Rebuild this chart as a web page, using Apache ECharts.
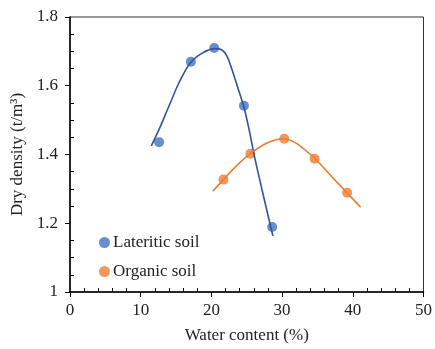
<!DOCTYPE html>
<html>
<head>
<meta charset="utf-8">
<script src="https://cdn.jsdelivr.net/npm/echarts@6/dist/echarts.min.js"></script>
<style>
  html, body { margin: 0; padding: 0; background: #fff; }
  #chart { width: 435px; height: 349px; }
</style>
</head>
<body>
<div id="chart"></div>
<script>
// measured points (water content %, dry density t/m3)
const lateriticX = [12.6, 17.1, 20.4, 24.6, 28.6]
const lateriticY = [1.436, 1.670, 1.710, 1.542, 1.189]
const organicX = [21.7, 25.5, 30.3, 34.6, 39.2]
const organicY = [1.327, 1.402, 1.446, 1.388, 1.289]

// trend curves
const lateriticTrendX = [11.5, 12.6, 14.0, 15.4, 17.0, 18.7, 20.5, 21.5, 22.2, 22.9, 23.6, 24.6, 25.4, 26.05, 27.3, 28.7]
const lateriticTrendY = [1.425, 1.473, 1.541, 1.608, 1.666, 1.695, 1.708, 1.704, 1.686, 1.648, 1.603, 1.538, 1.466, 1.398, 1.285, 1.163]
const organicTrendX = [20.2, 21.7, 23.5, 25.4, 27.5, 29.0, 30.3, 31.3, 32.2, 34.6, 36.9, 39.2, 41.1]
const organicTrendY = [1.293, 1.327, 1.366, 1.401, 1.430, 1.442, 1.446, 1.440, 1.430, 1.389, 1.338, 1.288, 1.247]

const xTicks = [0, 10, 20, 30, 40, 50]
const yTicks = [1, 1.2, 1.4, 1.6, 1.8]

const pairs = (xs, ys) => xs.map((x, i) => [x, ys[i]])

const font = 'Liberation Serif'
const blue = '#4472C4'
const blueLine = '#2F5597'
const orange = '#ED7D31'

const chart = echarts.init(document.getElementById('chart'))
chart.setOption({
  animation: false,
  textStyle: { fontFamily: font },
  grid: {
    left: 70, top: 17, right: 8, bottom: 55,
    show: true, borderColor: '#333', borderWidth: 1
  },
  legend: {
    orient: 'vertical',
    left: 94,
    top: 229,
    itemWidth: 11,
    itemHeight: 11,
    itemGap: 12,
    icon: 'circle',
    textStyle: { fontFamily: font, fontSize: 17, color: '#222', padding: [0, 0, 0, -2] },
    data: ['Lateritic soil', 'Organic soil']
  },
  xAxis: [
    {
      type: 'value',
      position: 'bottom',
      min: xTicks[0],
      max: xTicks[xTicks.length - 1],
      interval: 10,
      name: 'Water content (%)',
      nameLocation: 'middle',
      nameGap: 35,
      nameTextStyle: { fontFamily: font, fontSize: 17, color: '#222' },
      axisLine: { lineStyle: { color: '#000', width: 1.5 } },
      axisTick: { show: true, length: 5, lineStyle: { color: '#000' } },
      axisLabel: { fontFamily: font, fontSize: 17, color: '#222', margin: 10 },
      splitLine: { show: false }
    },
    {
      type: 'value',
      position: 'bottom',
      min: xTicks[0],
      max: xTicks[xTicks.length - 1],
      interval: 10,
      axisLine: { show: false },
      axisTick: { show: false, inside: true },
      minorTick: { show: true, splitNumber: 5, length: 4, lineStyle: { color: '#000' } },
      axisLabel: { show: false },
      splitLine: { show: false }
    }
  ],
  yAxis: [
    {
      type: 'value',
      position: 'left',
      min: yTicks[0],
      max: yTicks[yTicks.length - 1],
      interval: 0.2,
      name: 'Dry density (t/m³)',
      nameLocation: 'middle',
      nameGap: 44,
      nameTextStyle: { fontFamily: font, fontSize: 17, color: '#222' },
      axisLine: { show: true, lineStyle: { color: '#000', width: 1.5 } },
      axisTick: { show: true, length: 5, lineStyle: { color: '#000' } },
      axisLabel: {
        fontFamily: font, fontSize: 17, color: '#222', margin: 12,
        formatter: v => (Math.abs(v - 1) < 1e-9 ? '1' : v.toFixed(1))
      },
      splitLine: { show: false }
    },
    {
      type: 'value',
      position: 'left',
      min: yTicks[0],
      max: yTicks[yTicks.length - 1],
      interval: 0.2,
      axisLine: { show: false },
      axisTick: { show: false, inside: true },
      minorTick: { show: true, splitNumber: 4, length: 4, lineStyle: { color: '#000' } },
      axisLabel: { show: false },
      splitLine: { show: false }
    }
  ],
  series: [
    {
      name: 'Lateritic soil trend',
      type: 'line',
      smooth: 0.3,
      showSymbol: false,
      silent: true,
      lineStyle: { color: blueLine, width: 1.6 },
      data: pairs(lateriticTrendX, lateriticTrendY)
    },
    {
      name: 'Organic soil trend',
      type: 'line',
      smooth: 0.3,
      showSymbol: false,
      silent: true,
      lineStyle: { color: orange, width: 1.6 },
      data: pairs(organicTrendX, organicTrendY)
    },
    {
      name: 'Lateritic soil',
      type: 'scatter',
      symbolSize: 10,
      itemStyle: { color: blue },
      data: pairs(lateriticX, lateriticY)
    },
    {
      name: 'Organic soil',
      type: 'scatter',
      symbolSize: 10,
      itemStyle: { color: orange },
      data: pairs(organicX, organicY)
    }
  ]
})
</script>
</body>
</html>
